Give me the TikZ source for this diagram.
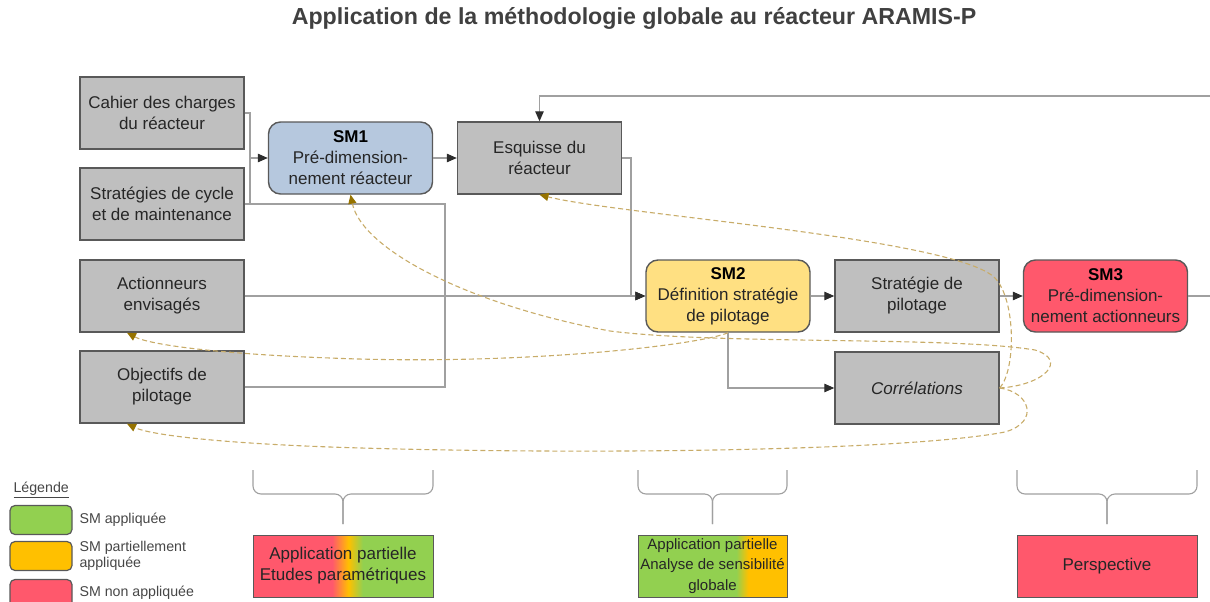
\documentclass[tikz,border=0pt]{standalone}
\usepackage{fontspec}
\setmainfont{Liberation Sans}
\usepackage{tikz}
\usetikzlibrary{positioning,arrows.meta,calc,shapes.misc}

\definecolor{boxgray}{RGB}{191,191,191}
\definecolor{edgegray}{RGB}{89,89,89}
\definecolor{linegray}{RGB}{160,160,160}
\definecolor{tipgray}{RGB}{45,45,45}
\definecolor{txtgray}{RGB}{38,38,38}
\definecolor{titlegray}{RGB}{64,64,64}
\definecolor{smblue}{RGB}{182,200,222}
\definecolor{smyellow}{RGB}{255,224,130}
\definecolor{smred}{RGB}{255,88,108}
\definecolor{smgreen}{RGB}{146,208,80}
\definecolor{smorange}{RGB}{255,192,0}
\definecolor{fbline}{RGB}{200,172,105}
\definecolor{fbtip}{RGB}{150,115,0}

\pgfdeclarehorizontalshading{redtogreen}{100bp}{color(0bp)=(smred); color(47bp)=(smred); color(51.5bp)=(smorange); color(55.5bp)=(smgreen); color(100bp)=(smgreen)}
\pgfdeclarehorizontalshading{greentoorange}{100bp}{color(0bp)=(smgreen); color(58bp)=(smgreen); color(62bp)=(smorange); color(100bp)=(smorange)}

\begin{document}
\begin{tikzpicture}[
    x=1pt, y=-1pt,
    every node/.style={font=\fontsize{17}{21}\selectfont, text=txtgray, align=center},
    title/.style={font=\bfseries\fontsize{23.2}{27}\selectfont, text=titlegray},
    block/.style={rectangle, draw=edgegray, line width=1.4pt, fill=boxgray, minimum width=164pt, minimum height=72pt, inner sep=2pt},
    smbox/.style={block, rounded corners=12pt},
    result/.style={rectangle, draw=edgegray, line width=1pt, minimum width=180pt, minimum height=62pt, inner sep=1pt},
    legbox/.style={rectangle, rounded corners=5pt, draw=edgegray, line width=1.2pt, minimum width=62pt, minimum height=29pt},
    legtext/.style={font=\fontsize{14.2}{16.5}\selectfont, text={rgb,255:red,70;green,70;blue,70}, align=left, anchor=west},
    conn/.style={draw=linegray, line width=1.1pt},
    flow/.style={conn, -{Triangle[length=10pt,width=8.5pt,color=tipgray]}},
    fb/.style={draw=fbline, line width=1.1pt, dash pattern=on 5pt off 3pt, -{Triangle[length=9pt,width=8pt,color=fbtip]}},
    brc/.style={draw=linegray, line width=1.1pt, rounded corners=8pt}
]
\useasboundingbox (0,0) rectangle (1210,602);

\node[title] (titre) at (634,18) {Application de la méthodologie globale au réacteur ARAMIS-P};

% entrees
\node[block] (cahier) at (162,113) {Cahier des charges\\du réacteur};
\node[block] (cycle) at (162,204) {Stratégies de cycle\\et de maintenance};
\node[block] (action) at (162,296) {Actionneurs\\envisagés};
\node[block] (objectifs) at (162,387) {Objectifs de\\pilotage};

% sous-methodes
\node[smbox, fill=smblue] (sm1) at (350.5,158) {\textbf{\color{black}SM1}\\Pré-dimension-\\nement réacteur};
\node[block] (esquisse) at (539.5,158) {Esquisse du\\réacteur};
\node[smbox, fill=smyellow] (sm2) at (728,296) {\textbf{\color{black}SM2}\\Définition stratégie\\de pilotage};
\node[block] (strategie) at (917,296) {Stratégie de\\pilotage};
\node[smbox, fill=smred] (sm3) at (1105.5,296) {\textbf{\color{black}SM3}\\Pré-dimension-\\nement actionneurs};
\node[block] (correl) at (917,388) {\textit{Corrélations}};

\coordinate (j1) at (250,158);
\coordinate (j2) at (445,204);
\coordinate (j3) at (631,296);
\coordinate (outR) at (1212,296);
\coordinate (inR) at (1212,96);

\draw[conn] (cahier.east) -| (j1);
\draw[conn] (cycle.east) -| (j1);
\draw[flow] (j1) -- (sm1.west);
\draw[conn] (objectifs.east) -| (j2) -- (cycle.east);
\draw[flow] (sm1.east) -- (esquisse.west);
\draw[flow] (action.east) -- (sm2.west);
\draw[flow] (esquisse.east) -| (j3) -- (sm2.west);
\draw[flow] (sm2.east) -- (strategie.west);
\draw[flow] (strategie.east) -- (sm3.west);
\draw[flow] (sm2.south) |- (correl.west);
\draw[conn] (sm3.east) -- (outR);
\draw[flow] (inR) -| (esquisse.north);

% retours
\draw[fb] (correl.east) .. controls (1016,370) and (1016,300) .. (995,278) .. controls (955,238) and (620,215) .. (esquisse.south);
\draw[fb] (correl.east) .. controls (1045,385) and (1068,360) .. (1035,350) .. controls (950,336) and (720,345) .. (610,331) .. controls (470,305) and (362,250) .. (sm1.south);
\draw[fb] (sm2.south) .. controls (700,345) and (520,366) .. (330,358) .. controls (220,354) and (150,345) .. ($(action.south)+(-35,0)$);
\draw[fb] (correl.east) .. controls (1030,392) and (1040,422) .. (1005,432) .. controls (900,452) and (560,455) .. (330,447) .. controls (220,443) and (150,435) .. ($(objectifs.south)+(-35,0)$);

% accolades
\draw[brc] (253,470) |- (343,494) -- (343,524);
\draw[brc] (433,470) |- (343,494) -- (343,524);
\draw[brc] (638,470) |- (712.5,494) -- (712.5,524);
\draw[brc] (787,470) |- (712.5,494) -- (712.5,524);
\draw[brc] (1017,470) |- (1107,494) -- (1107,524);
\draw[brc] (1197,470) |- (1107,494) -- (1107,524);

\node[result, shading=redtogreen] (partA) at (343,566) {Application partielle\\Etudes paramétriques};
\node[result, shading=greentoorange, minimum width=149pt, font=\fontsize{15}{20.5}\selectfont] (partB) at (712.5,566) {Application partielle\\Analyse de sensibilité\\globale};
\node[result, fill=smred] (persp) at (1107,566) {Perspective};

% legende
\node[font=\fontsize{14.2}{16.5}\selectfont, text={rgb,255:red,70;green,70;blue,70}, anchor=west] (legende) at (10,490) {\underline{Légende}};
\node[legbox, fill=smgreen] (lgreen) at (41,520) {};
\node[legbox, fill=smorange] (lorange) at (41,556) {};
\node[legbox, fill=smred] (lred) at (41,594) {};
\node[legtext] (tgreen) at (76,520) {SM appliquée};
\node[legtext] (torange) at (76,556) {SM partiellement\\appliquée};
\node[legtext] (tred) at (76,593) {SM non appliquée};

\end{tikzpicture}
\end{document}
